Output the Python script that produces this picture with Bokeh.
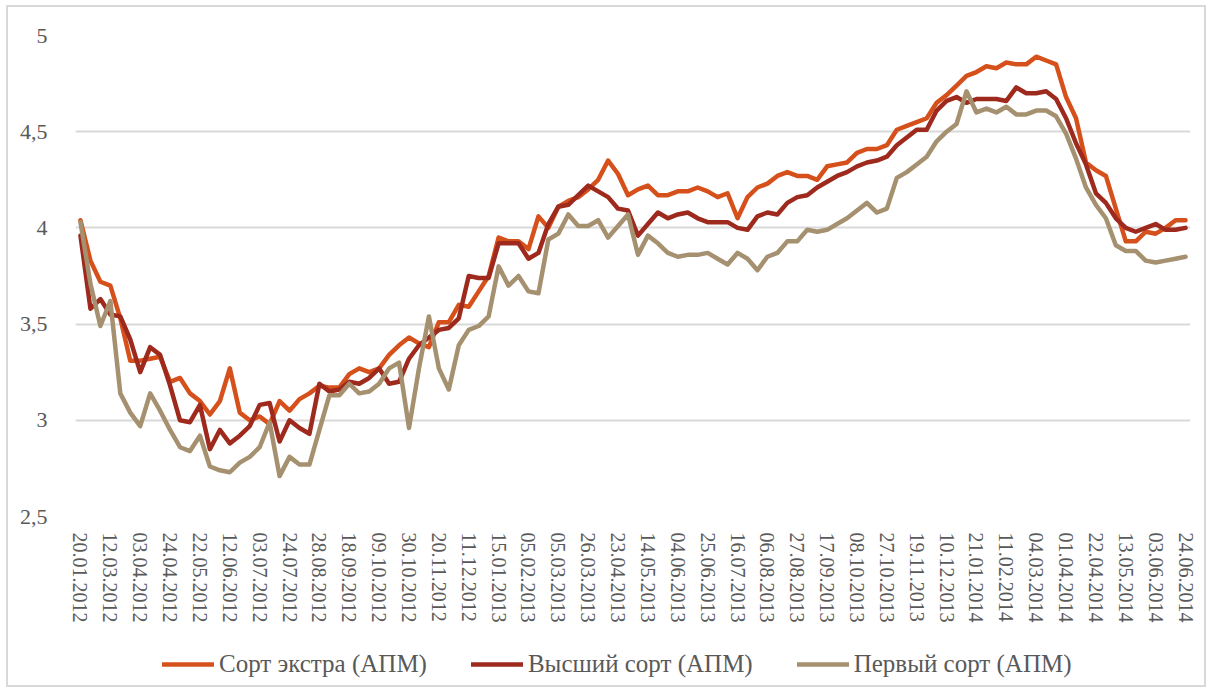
from bokeh.plotting import figure
from bokeh.layouts import column
from bokeh.models import Range1d, FixedTicker, Legend, LegendItem, ColumnDataSource
from bokeh.embed import file_html
from bokeh.resources import INLINE

# ---- data -------------------------------------------------------------
tick_labels = ["20.01.2012", "12.03.2012", "03.04.2012", "24.04.2012", "22.05.2012",
               "12.06.2012", "03.07.2012", "24.07.2012", "28.08.2012", "18.09.2012",
               "09.10.2012", "30.10.2012", "20.11.2012", "11.12.2012", "15.01.2013",
               "05.02.2013", "05.03.2013", "26.03.2013", "23.04.2013", "14.05.2013",
               "04.06.2013", "25.06.2013", "16.07.2013", "06.08.2013", "27.08.2013",
               "17.09.2013", "08.10.2013", "27.10.2013", "19.11.2013", "10.12.2013",
               "21.01.2014", "11.02.2014", "04.03.2014", "01.04.2014", "22.04.2014",
               "13.05.2014", "03.06.2014", "24.06.2014"]
label_step = 3  # a date label is printed at every third observation

extra = [4.04, 3.83, 3.72, 3.70, 3.53, 3.31, 3.31, 3.32, 3.33, 3.20,
         3.22, 3.14, 3.10, 3.03, 3.10, 3.27, 3.04, 3.00, 3.02, 2.98,
         3.10, 3.05, 3.11, 3.14, 3.18, 3.17, 3.17, 3.24, 3.27, 3.25,
         3.27, 3.34, 3.39, 3.43, 3.40, 3.38, 3.51, 3.51, 3.60, 3.59,
         3.67, 3.75, 3.95, 3.93, 3.93, 3.89, 4.06, 4.00, 4.11, 4.14,
         4.16, 4.20, 4.25, 4.35, 4.28, 4.17, 4.20, 4.22, 4.17, 4.17,
         4.19, 4.19, 4.21, 4.19, 4.16, 4.18, 4.05, 4.16, 4.21, 4.23,
         4.27, 4.29, 4.27, 4.27, 4.25, 4.32, 4.33, 4.34, 4.39, 4.41,
         4.41, 4.43, 4.51, 4.53, 4.55, 4.57, 4.65, 4.69, 4.74, 4.79,
         4.81, 4.84, 4.83, 4.86, 4.85, 4.85, 4.89, 4.87, 4.85, 4.68,
         4.57, 4.34, 4.30, 4.27, 4.10, 3.93, 3.93, 3.98, 3.97, 4.00,
         4.04, 4.04]

highest = [3.96, 3.58, 3.63, 3.55, 3.54, 3.42, 3.25, 3.38, 3.34, 3.18,
           3.00, 2.99, 3.08, 2.85, 2.95, 2.88, 2.92, 2.97, 3.08, 3.09,
           2.89, 3.00, 2.96, 2.93, 3.19, 3.15, 3.16, 3.20, 3.19, 3.22,
           3.27, 3.19, 3.20, 3.32, 3.39, 3.43, 3.47, 3.48, 3.53, 3.75,
           3.74, 3.74, 3.92, 3.92, 3.92, 3.84, 3.87, 4.02, 4.11, 4.12,
           4.17, 4.22, 4.19, 4.16, 4.10, 4.09, 3.96, 4.02, 4.08, 4.05,
           4.07, 4.08, 4.05, 4.03, 4.03, 4.03, 4.00, 3.99, 4.06, 4.08,
           4.07, 4.13, 4.16, 4.17, 4.21, 4.24, 4.27, 4.29, 4.32, 4.34,
           4.35, 4.37, 4.43, 4.47, 4.51, 4.51, 4.61, 4.66, 4.68, 4.65,
           4.67, 4.67, 4.67, 4.66, 4.73, 4.70, 4.70, 4.71, 4.67, 4.57,
           4.44, 4.33, 4.18, 4.13, 4.05, 4.00, 3.98, 4.00, 4.02, 3.99,
           3.99, 4.00]

first = [4.03, 3.71, 3.49, 3.62, 3.14, 3.04, 2.97, 3.14, 3.05, 2.95,
         2.86, 2.84, 2.92, 2.76, 2.74, 2.73, 2.78, 2.81, 2.86, 2.99,
         2.71, 2.81, 2.77, 2.77, 2.95, 3.13, 3.13, 3.19, 3.14, 3.15,
         3.19, 3.27, 3.30, 2.96, 3.27, 3.54, 3.27, 3.16, 3.39, 3.47,
         3.49, 3.54, 3.80, 3.70, 3.75, 3.67, 3.66, 3.94, 3.97, 4.07,
         4.01, 4.01, 4.04, 3.95, 4.01, 4.07, 3.86, 3.96, 3.92, 3.87,
         3.85, 3.86, 3.86, 3.87, 3.84, 3.81, 3.87, 3.84, 3.78, 3.85,
         3.87, 3.93, 3.93, 3.99, 3.98, 3.99, 4.02, 4.05, 4.09, 4.13,
         4.08, 4.10, 4.26, 4.29, 4.33, 4.37, 4.45, 4.50, 4.54, 4.71,
         4.60, 4.62, 4.60, 4.63, 4.59, 4.59, 4.61, 4.61, 4.58, 4.49,
         4.36, 4.21, 4.12, 4.05, 3.91, 3.88, 3.88, 3.83, 3.82, 3.83,
         3.84, 3.85]

series_names = ["Сорт экстра (АПМ)", "Высший сорт (АПМ)", "Первый сорт (АПМ)"]
series_colors = ["#D5501B", "#9E2A1E", "#A59070"]
series_cols = ["extra", "highest", "first"]

y_ticks = [2.5, 3, 3.5, 4, 4.5, 5]
y_tick_labels = ["2,5", "3", "3,5", "4", "4,5", "5"]

# ---- main chart -------------------------------------------------------
n = len(extra)
xs = list(range(n))
src = ColumnDataSource(dict(x=xs, extra=extra, highest=highest, first=first))

TEXT = "#595959"
FONT = "Liberation Serif"
LW = 4.5

p = figure(width=1196, height=618, output_backend="svg", toolbar_location=None,
           x_range=Range1d(-0.5, n - 0.5), y_range=Range1d(2.5, 5),
           min_border_left=67, min_border_right=14, min_border_top=28,
           min_border_bottom=105)
p.outline_line_color = None
p.background_fill_color = "white"
p.border_fill_color = "white"

p.xgrid.visible = False
p.ygrid.grid_line_color = "#d9d9d9"
p.ygrid.grid_line_width = 2
p.ygrid.ticker = FixedTicker(ticks=y_ticks)

for col, color in zip(series_cols, series_colors):
    p.line("x", col, source=src, line_color=color, line_width=LW,
           line_join="round", line_cap="round")

xa = p.xaxis[0]
xa.ticker = FixedTicker(ticks=[i * label_step for i in range(len(tick_labels))])
xa.major_label_overrides = {i * label_step: lab for i, lab in enumerate(tick_labels)}
xa.major_label_orientation = "vertical"
xa.axis_line_color = None
xa.major_tick_line_color = None
xa.minor_tick_line_color = None
xa.major_label_standoff = 10
xa.major_label_text_font = FONT
xa.major_label_text_font_size = "20px"
xa.major_label_text_color = TEXT

ya = p.yaxis[0]
ya.ticker = FixedTicker(ticks=y_ticks)
ya.major_label_overrides = {t: l for t, l in zip(y_ticks, y_tick_labels)}
ya.axis_line_color = None
ya.major_tick_line_color = None
ya.minor_tick_line_color = None
ya.major_label_standoff = 22
ya.major_label_text_font = FONT
ya.major_label_text_font_size = "22px"
ya.major_label_text_color = TEXT

# ---- legend strip (legend only; its sample lines lie outside the view) --
lf = figure(width=1196, height=60, output_backend="svg", toolbar_location=None,
            x_range=Range1d(0, 1), y_range=Range1d(0, 1),
            x_axis_type=None, y_axis_type=None, min_border=0)
lf.outline_line_color = None
lf.background_fill_color = "white"
lf.border_fill_color = "white"
lf.xgrid.visible = False
lf.ygrid.visible = False

items = []
for nm, color in zip(series_names, series_colors):
    r = lf.line(x=[-5, -4], y=[-5, -4], line_color=color, line_width=LW,
                line_cap="round")
    items.append(LegendItem(label=nm, renderers=[r]))

legend = Legend(items=items, orientation="horizontal", location=(87, 7),
                glyph_width=52, glyph_height=20, label_standoff=5, spacing=44,
                padding=5, margin=0, border_line_color=None,
                background_fill_alpha=0,
                label_text_font=FONT, label_text_font_size="25px",
                label_text_color=TEXT)
lf.add_layout(legend, "center")

layout = column(p, lf, spacing=0)
layout.styles = {"border": "2px solid #d9d9d9", "margin-left": "6px",
                 "margin-top": "5px", "width": "fit-content"}

open("out.html", "w").write(file_html(layout, INLINE))
